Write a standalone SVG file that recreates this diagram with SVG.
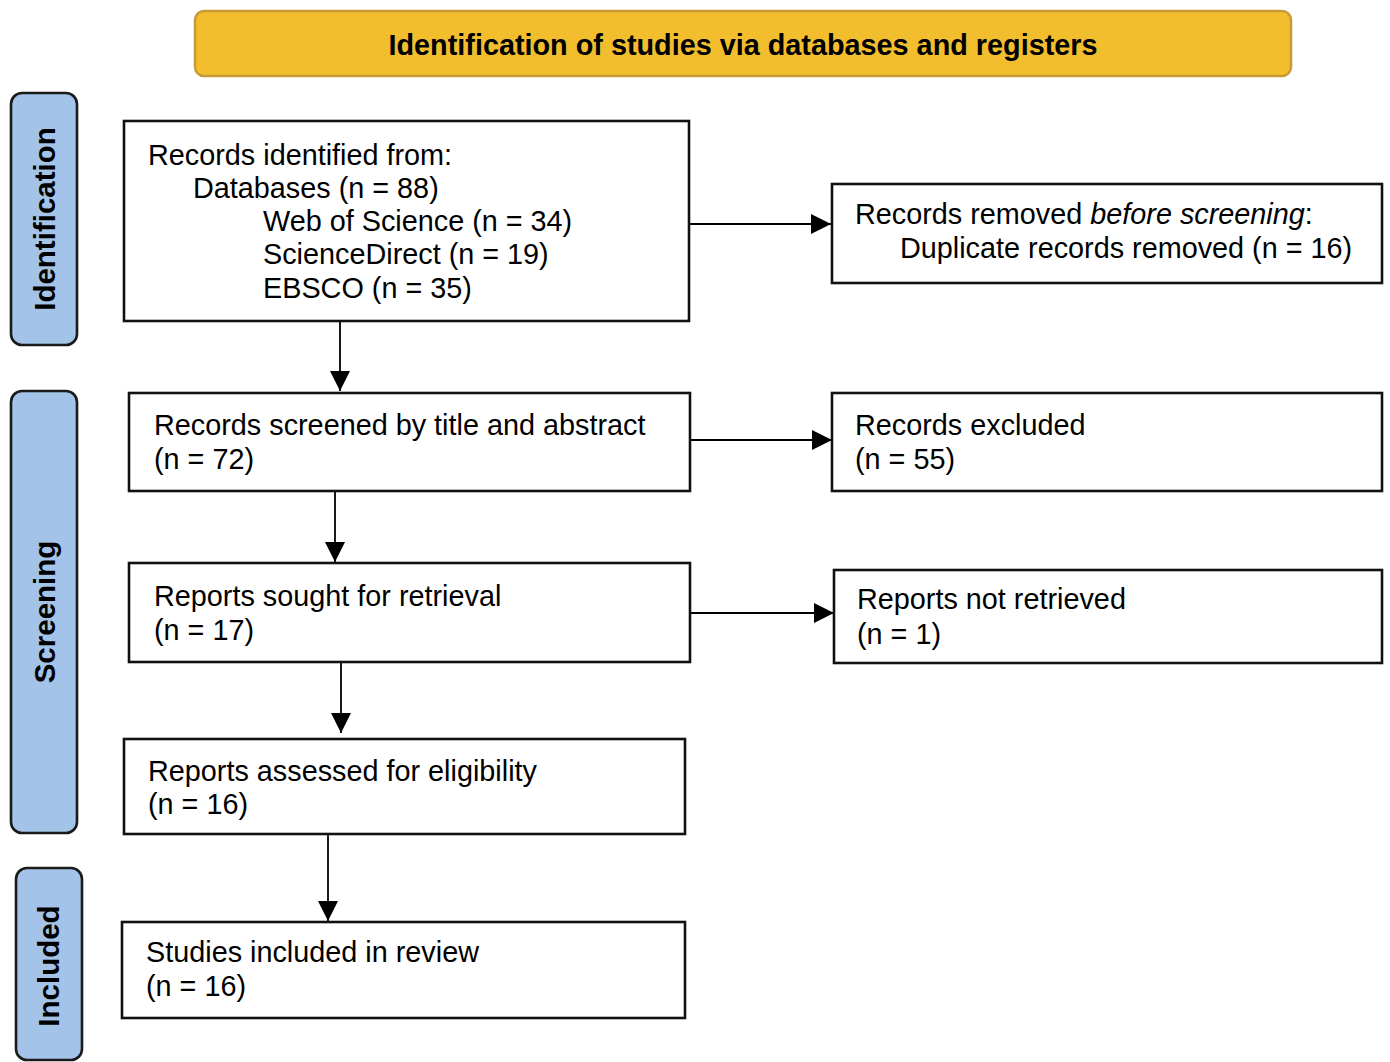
<svg xmlns="http://www.w3.org/2000/svg" width="1390" height="1062" viewBox="0 0 1390 1062">
<style>
.box{fill:#fff;stroke:#111;stroke-width:2.6}
.side{fill:#a4c3e8;stroke:#1a1a1a;stroke-width:2.6}
.t{font-family:"Liberation Sans",Arial,sans-serif;font-size:28.8px;fill:#000}
.b{font-family:"Liberation Sans",Arial,sans-serif;font-size:29.5px;font-weight:bold;fill:#000}
.c{fill:none;stroke:#000;stroke-width:1.8}
</style>
<defs>
<marker id="ah" markerUnits="userSpaceOnUse" markerWidth="20" markerHeight="20" viewBox="0 0 18 18" refX="18" refY="9" orient="auto">
<path d="M0,0 L18,9 L0,18 Z" fill="#000"/>
</marker>
</defs>
<rect width="1390" height="1062" fill="#fff"/>
<g id="banner">
<rect x="195" y="11" width="1096" height="65" rx="9" fill="#f2be2d" stroke="#c69a35" stroke-width="2.5"/>
<text class="b" x="743" y="55" text-anchor="middle" font-size="28.8" textLength="709" lengthAdjust="spacingAndGlyphs">Identification of studies via databases and registers</text>
</g>
<g id="label-identification">
<rect class="side" x="11" y="93" width="66" height="252" rx="11"/>
<text class="b" transform="translate(55,219) rotate(-90)" text-anchor="middle">Identification</text>
</g>
<g id="label-screening">
<rect class="side" x="11" y="391" width="66" height="442" rx="11"/>
<text class="b" transform="translate(55,612) rotate(-90)" text-anchor="middle">Screening</text>
</g>
<g id="label-included">
<rect class="side" x="16" y="868" width="66" height="192" rx="11"/>
<text class="b" transform="translate(59,966) rotate(-90)" text-anchor="middle">Included</text>
</g>
<g id="connectors">
<line class="c" x1="689" y1="224" x2="831" y2="224" marker-end="url(#ah)"/>
<line class="c" x1="340" y1="321" x2="340" y2="391" marker-end="url(#ah)"/>
<line class="c" x1="690" y1="440" x2="832" y2="440" marker-end="url(#ah)"/>
<line class="c" x1="335" y1="491" x2="335" y2="562" marker-end="url(#ah)"/>
<line class="c" x1="690" y1="613" x2="834" y2="613" marker-end="url(#ah)"/>
<line class="c" x1="341" y1="662" x2="341" y2="733" marker-end="url(#ah)"/>
<line class="c" x1="328" y1="834" x2="328" y2="921" marker-end="url(#ah)"/>
</g>
<g id="records-identified">
<rect class="box" x="124" y="121" width="565" height="200"/>
<text class="t" x="148" y="165">Records identified from:</text>
<text class="t" x="193" y="198">Databases (n = 88)</text>
<text class="t" x="263" y="231">Web of Science (n = 34)</text>
<text class="t" x="263" y="264">ScienceDirect (n = 19)</text>
<text class="t" x="263" y="298">EBSCO (n = 35)</text>
</g>
<g id="records-removed">
<rect class="box" x="832" y="184" width="550" height="99"/>
<text class="t" x="855" y="224">Records removed <tspan font-style="italic">before screening</tspan>:</text>
<text class="t" x="900" y="258">Duplicate records removed (n = 16)</text>
</g>
<g id="records-screened">
<rect class="box" x="129" y="393" width="561" height="98"/>
<text class="t" x="154" y="435">Records screened by title and abstract</text>
<text class="t" x="154" y="469">(n = 72)</text>
</g>
<g id="records-excluded">
<rect class="box" x="832" y="393" width="550" height="98"/>
<text class="t" x="855" y="435">Records excluded</text>
<text class="t" x="855" y="469">(n = 55)</text>
</g>
<g id="reports-sought">
<rect class="box" x="129" y="563" width="561" height="99"/>
<text class="t" x="154" y="606">Reports sought for retrieval</text>
<text class="t" x="154" y="640">(n = 17)</text>
</g>
<g id="reports-not-retrieved">
<rect class="box" x="834" y="570" width="548" height="93"/>
<text class="t" x="857" y="609">Reports not retrieved</text>
<text class="t" x="857" y="644">(n = 1)</text>
</g>
<g id="reports-assessed">
<rect class="box" x="124" y="739" width="561" height="95"/>
<text class="t" x="148" y="781">Reports assessed for eligibility</text>
<text class="t" x="148" y="814">(n = 16)</text>
</g>
<g id="studies-included">
<rect class="box" x="122" y="922" width="563" height="96"/>
<text class="t" x="146" y="962">Studies included in review</text>
<text class="t" x="146" y="996">(n = 16)</text>
</g>
</svg>
